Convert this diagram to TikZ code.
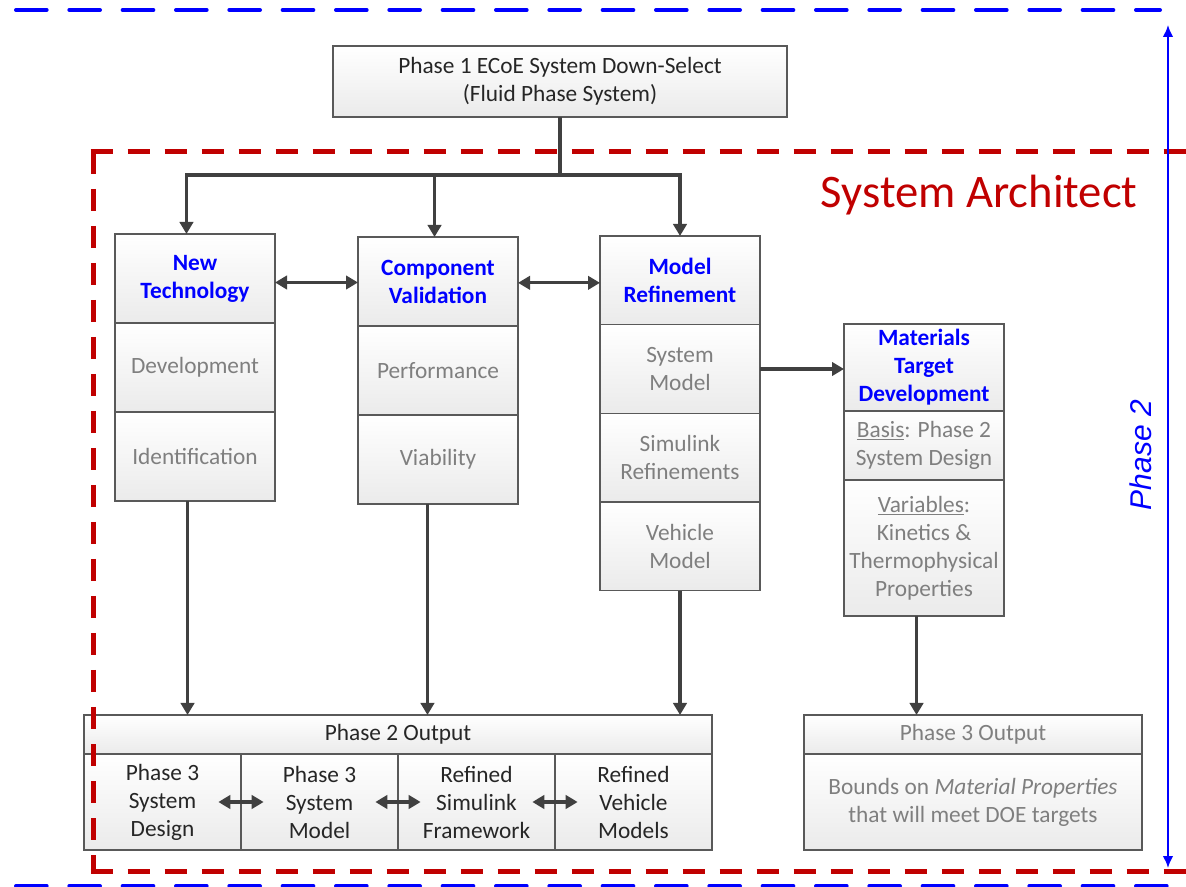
\documentclass[tikz,border=0pt]{standalone}
\usepackage{fontspec}
\setmainfont{Carlito}
\newfontfamily\phasefont{Liberation Sans}
\usepackage{xcolor}
\definecolor{colorBorder}{HTML}{595959}
\definecolor{colorLink}{HTML}{404040}
\definecolor{colorHead}{HTML}{0000FF}
\definecolor{colorBody}{HTML}{7F7F7F}
\definecolor{colorText}{HTML}{262626}
\definecolor{colorArchitect}{HTML}{C00000}
\usetikzlibrary{arrows.meta, positioning}
\tikzset{
  cell/.style={draw=colorBorder, line width=1pt, top color=white, bottom color=black!8,
    align=center, inner sep=1pt, outer sep=0pt, minimum width=120pt, minimum height=66.75pt,
    text=colorBody, font=\fontsize{17.5}{21}\selectfont},
  headcell/.style={cell, text=colorHead, font=\fontsize{17.5}{21}\selectfont\bfseries},
  outcell/.style={cell, text=colorText, minimum width=117.75pt, minimum height=72pt},
  link/.style={draw=colorLink, line width=2.4pt},
  arr/.style={link, -{Triangle[length=9pt,width=10pt]}},
  dblarr/.style={link, {Triangle[length=9pt,width=10pt]}-{Triangle[length=9pt,width=10pt]}}
}

\begin{document}
\begin{tikzpicture}[x=0.75pt, y=-0.75pt]
\useasboundingbox (0,0) rectangle (1186,887);

\node[cell, anchor=north west, text=colorText, minimum width=340.5pt, minimum height=53.25pt] (top) at (333,46) {Phase 1 ECoE System Down-Select\\(Fluid Phase System)};

\node[headcell, anchor=north west] (nt1) at (115,234) {New\\Technology};
\node[cell, below=0pt of nt1] (nt2) {Development};
\node[cell, below=0pt of nt2] (nt3) {Identification};

\node[headcell, anchor=north west] (cv1) at (358,237) {Component\\Validation};
\node[cell, below=0pt of cv1] (cv2) {Performance};
\node[cell, below=0pt of cv2] (cv3) {Viability};

\node[headcell, anchor=north west, minimum height=66.5pt] (mr1) at (600,236) {Model\\Refinement};
\node[cell, below=0pt of mr1, minimum height=66.5pt] (mr2) {System\\Model};
\node[cell, below=0pt of mr2, minimum height=66.5pt] (mr3) {Simulink\\Refinements};
\node[cell, below=0pt of mr3, minimum height=66.5pt] (mr4) {Vehicle\\Model};

\node[headcell, anchor=north west, minimum height=65.25pt] (mt1) at (844,324) {Materials\\Target\\Development};
\node[cell, below=0pt of mt1, minimum height=51.75pt] (mt2) {\underline{Basis}: Phase 2\\System Design};
\node[cell, below=0pt of mt2, minimum height=102pt] (mt3) {\underline{Variables}:\\Kinetics \&\\Thermophysical\\Properties};

\node[cell, anchor=north west, text=colorText, minimum width=471pt, minimum height=29.25pt] (p2o) at (84,715) {Phase 2 Output};
\node[outcell, below right=0pt and 0pt of p2o.south west] (o1) {Phase 3\\System\\Design};
\node[outcell, right=0pt of o1] (o2) {Phase 3\\System\\Model};
\node[outcell, right=0pt of o2] (o3) {Refined\\Simulink\\Framework};
\node[outcell, right=0pt of o3] (o4) {Refined\\Vehicle\\Models};

\node[cell, anchor=north west, minimum width=253.5pt, minimum height=29.25pt] (p3o) at (804,715) {Phase 3 Output};
\node[cell, below=0pt of p3o, minimum width=253.5pt, minimum height=72pt] (p3b) {Bounds on \textit{Material Properties}\\that will meet DOE targets};

\coordinate (split) at (560,175);
\draw[link] (top.south) -- (split);
\draw[arr] (split) -| ([xshift=-6.4pt]nt1.north);
\draw[arr] (split) -| ([xshift=-2.6pt]cv1.north);
\draw[arr] (split) -| (mr1.north);

\draw[dblarr] ([yshift=-3pt]nt1.east) -- ([yshift=-3pt]nt1.east -| cv1.west);
\draw[dblarr] ([yshift=-1pt]cv1.east) -- ([yshift=-1pt]cv1.east -| mr1.west);
\draw[arr] (mr2.east) -- (mr2.east -| mt1.west);

\draw[arr] ([xshift=-5.6pt]nt3.south) -- ([xshift=-5.6pt]nt3.south |- p2o.north);
\draw[arr] ([xshift=-7.9pt]cv3.south) -- ([xshift=-7.9pt]cv3.south |- p2o.north);
\draw[arr] (mr4.south) -- (mr4.south |- p2o.north);
\draw[arr] ([xshift=-5.6pt]mt3.south) -- ([xshift=-5.6pt]mt3.south |- p3o.north);

\draw[dblarr] ([xshift=-17pt]o1.east) -- ([xshift=17pt]o1.east);
\draw[dblarr] ([xshift=-17pt]o2.east) -- ([xshift=17pt]o2.east);
\draw[dblarr] ([xshift=-17pt]o3.east) -- ([xshift=17pt]o3.east);

\node[anchor=base west, text=colorArchitect, font=\fontsize{35}{42}\selectfont] (arch) at (816,208) {System Architect};

\draw[colorArchitect, line width=3.75pt, dash pattern=on 16.5pt off 11.25pt] (90.5,152) -- (1190,152);
\draw[colorArchitect, line width=3.75pt, dash pattern=on 16.5pt off 11.25pt] (93,152) -- (93,871);
\draw[colorArchitect, line width=3.75pt, dash pattern=on 16.5pt off 11.25pt] (90.5,871) -- (1190,871);

\draw[colorHead, line width=3pt, line cap=round, dash pattern=on 23pt off 17pt] (16,10) -- (1160,10);
\draw[colorHead, line width=3pt, line cap=round, dash pattern=on 23pt off 17pt] (16,886) -- (1186,886);

\coordinate (ptop) at (1168,25);
\coordinate (pbot) at (1168,868);
\draw[colorHead, line width=1.5pt, {Latex[length=9pt,width=8pt]}-{Latex[length=9pt,width=8pt]}] (ptop) -- (pbot);
\node[rotate=90, text=colorHead, font=\phasefont\itshape\fontsize{22.5}{27}\selectfont] (ph2) at (1141,455) {Phase 2};
\end{tikzpicture}
\end{document}
